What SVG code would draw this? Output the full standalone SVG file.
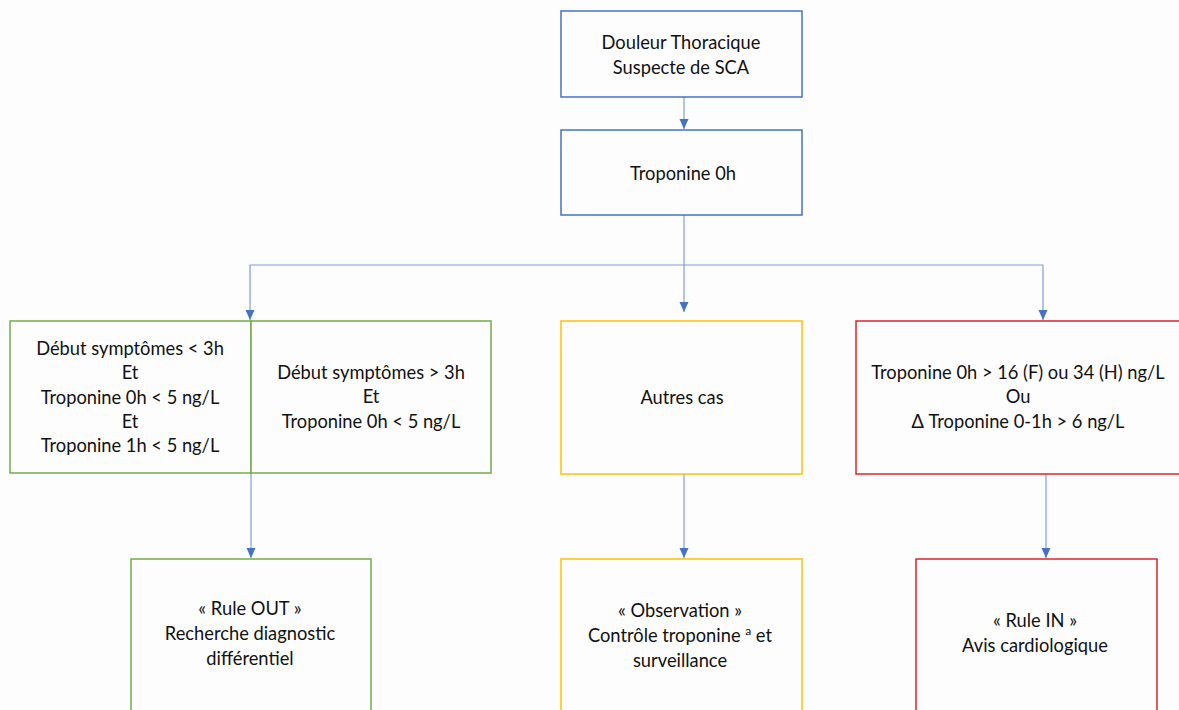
<svg xmlns="http://www.w3.org/2000/svg" width="1179" height="710" viewBox="0 0 1179 710">
<style>
rect{fill:#fdfdfd;stroke-width:1.5}
.b{stroke:#4472C4}.g{stroke:#70AD47}.y{stroke:#FFC000}.r{stroke:#D9262C}
text{font-family:Lato,"Liberation Sans",sans-serif;font-size:18.3px;fill:#111;text-anchor:middle}
.c{fill:none;stroke:#7EA0DC;stroke-width:1.2}
</style>
<defs>
<marker id="ah" markerWidth="10" markerHeight="10" refX="10" refY="5" orient="auto" markerUnits="userSpaceOnUse" viewBox="0 0 10 10">
<path d="M0,0.5 L10,5 L0,9.5 Z" fill="#4472C4"/>
</marker>
</defs>
<rect width="1179" height="710" fill="#fff" stroke="none"/>
<g id="connectors">
<path class="c" d="M684,97 V129" marker-end="url(#ah)"/>
<path class="c" d="M684,215 V312" marker-end="url(#ah)"/>
<path class="c" d="M684,265 H250 V320" marker-end="url(#ah)"/>
<path class="c" d="M684,265 H1043 V320" marker-end="url(#ah)"/>
<path class="c" d="M251,473 V558" marker-end="url(#ah)"/>
<path class="c" d="M684,474 V558" marker-end="url(#ah)"/>
<path class="c" d="M1046,474 V558" marker-end="url(#ah)"/>
</g>
<g id="n1"><rect class="b" x="561" y="11" width="241" height="86"/>
<text x="681" y="49">Douleur Thoracique</text><text x="681" y="74">Suspecte de SCA</text></g>
<g id="n2"><rect class="b" x="561" y="130" width="241" height="85"/>
<text x="683" y="180">Troponine 0h</text></g>
<g id="n3a"><rect class="g" x="10" y="321" width="241" height="152"/>
<text x="130" y="355">Début symptômes &lt; 3h</text><text x="130" y="379">Et</text><text x="130" y="404">Troponine 0h &lt; 5 ng/L</text><text x="130" y="428">Et</text><text x="130" y="452">Troponine 1h &lt; 5 ng/L</text></g>
<g id="n3b"><rect class="g" x="251" y="321" width="240" height="152"/>
<text x="371" y="379">Début symptômes &gt; 3h</text><text x="371" y="403">Et</text><text x="371" y="428">Troponine 0h &lt; 5 ng/L</text></g>
<g id="n4"><rect class="y" x="561" y="321" width="241" height="153"/>
<text x="682" y="404">Autres cas</text></g>
<g id="n5"><rect class="r" x="856" y="321" width="330" height="153"/>
<text x="1018" y="379">Troponine 0h &gt; 16 (F) ou 34 (H) ng/L</text><text x="1018" y="403">Ou</text><text x="1018" y="428">Δ Troponine 0-1h &gt; 6 ng/L</text></g>
<g id="n6"><rect class="g" x="131" y="559" width="240" height="160"/>
<text x="250" y="615">« Rule OUT »</text><text x="250" y="640">Recherche diagnostic</text><text x="250" y="665">différentiel</text></g>
<g id="n7"><rect class="y" x="561" y="559" width="241" height="160"/>
<text x="680" y="617">« Observation »</text><text x="680" y="642">Contrôle troponine <tspan font-size="12" dy="-7">a</tspan><tspan dy="7"> et</tspan></text><text x="680" y="667">surveillance</text></g>
<g id="n8"><rect class="r" x="916" y="559" width="241" height="160"/>
<text x="1035" y="627">« Rule IN »</text><text x="1035" y="652">Avis cardiologique</text></g>
</svg>
